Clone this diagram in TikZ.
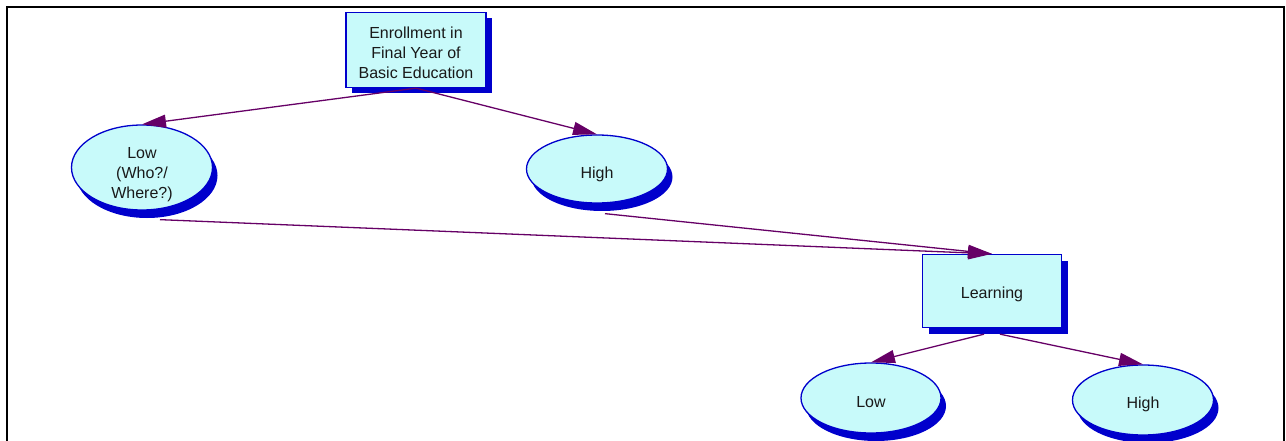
\documentclass[tikz,border=0pt]{standalone}
\usepackage{fontspec}
\setmainfont{Liberation Sans}
\usetikzlibrary{shapes.geometric,shadows,arrows.meta}
\definecolor{nodefill}{HTML}{C8FAFA}
\definecolor{nodeblue}{HTML}{0000CC}
\definecolor{linkpurple}{HTML}{660066}
% invisible strut that sets the text a little lower in its shape
\newcommand{\padtop}[1]{\rule{0pt}{#1}}
\tikzset{
  base/.style={draw=nodeblue, line width=1.3pt, fill=nodefill, text=black!90,
    font=\fontsize{16}{20}\selectfont, align=center, inner sep=0pt},
  boxnode/.style={base, rectangle,
    drop shadow={shadow xshift=6pt, shadow yshift=-6pt, fill=nodeblue, opacity=1}},
  ovalnode/.style={base, ellipse, inner sep=-20pt,
    drop shadow={shadow xshift=5pt, shadow yshift=-8pt, fill=nodeblue, opacity=1}},
  link/.style={draw=linkpurple, line width=1.3pt,
    -{Triangle[length=24pt, width=13pt, fill=linkpurple]}},
}
\begin{document}
\begin{tikzpicture}[x=1pt, y=-1pt]
  \useasboundingbox (0,0) rectangle (1286,441);
  % outer frame, open at the bottom
  \draw[line width=2pt] (7,441) -- (7,7) -- (1284,7) -- (1284,441);

  \node[boxnode, minimum width=140pt, minimum height=75pt] (enr) at (416,50)
    {\padtop{18pt}Enrollment in\\Final Year of\\Basic Education};
  \node[ovalnode, minimum width=141pt, minimum height=85pt] (low) at (142,167.5)
    {\padtop{25pt}Low\\(Who?/\\Where?)};
  \node[ovalnode, minimum width=141pt, minimum height=68pt] (high) at (597,169)
    {\padtop{22pt}High};
  \node[boxnode, minimum width=139pt, minimum height=73pt] (learn) at (992,291)
    {\padtop{19pt}Learning};
  \node[ovalnode, minimum width=140pt, minimum height=70pt] (low2) at (871,398)
    {\padtop{20pt}Low};
  \node[ovalnode, minimum width=141pt, minimum height=70pt] (high2) at (1143,400)
    {\padtop{20pt}High};

  % links leave their source just below its shadow
  \draw[link] (enr.south) -- (low.north);
  \draw[link] (enr.south) -- (high.north);
  \draw[link] ([xshift=18pt, yshift=-9pt]low.south) -- (learn.north);
  \draw[link] ([xshift=8pt, yshift=-10pt]high.south) -- (learn.north);
  \draw[link] ([xshift=-8pt, yshift=-6pt]learn.south) -- (low2.north);
  \draw[link] ([xshift=8pt, yshift=-6pt]learn.south) -- (high2.north);
\end{tikzpicture}
\end{document}
